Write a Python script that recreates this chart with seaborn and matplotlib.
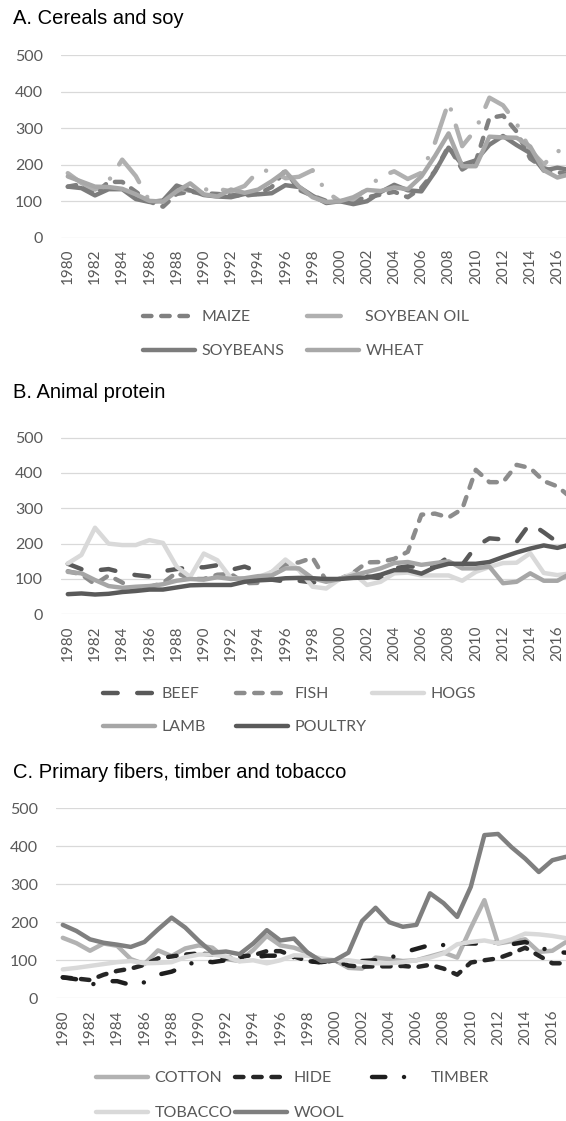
import pandas as pd
import numpy as np
import matplotlib.pyplot as plt
import seaborn as sns

# Price indices, 2000 = 100
years = list(range(1980, 2018))

# A. Cereals and soy
maize = [140, 147, 121, 153, 153, 126, 99, 85, 120, 126, 122, 120, 117, 115, 120, 139, 185, 131, 115, 101,
         100, 101, 111, 118, 126, 111, 137, 183, 251, 187, 209, 328, 335, 291, 217, 191, 179, 174]
soybean_oil = [177, 150, 132, 156, 214, 169, 101, 99, 137, 128, 132, 134, 127, 142, 182, 185, 163, 167, 185, 126,
               100, 105, 134, 168, 182, 161, 178, 261, 372, 251, 297, 384, 363, 313, 240, 201, 238, 232]
soybeans = [140, 136, 116, 133, 133, 106, 98, 102, 143, 130, 117, 113, 111, 120, 119, 122, 144, 139, 115, 95,
            100, 92, 100, 125, 145, 130, 127, 181, 247, 200, 212, 255, 279, 254, 232, 184, 192, 185]
wheat = [168, 154, 140, 139, 134, 119, 101, 99, 127, 149, 119, 113, 132, 123, 132, 155, 182, 140, 111, 98,
         100, 111, 131, 128, 138, 133, 168, 224, 286, 196, 196, 277, 275, 274, 250, 185, 165, 175]

# B. Animal protein
beef = [143, 128, 124, 128, 118, 111, 107, 122, 128, 133, 133, 139, 126, 135, 121, 98, 93, 95, 90, 96,
        100, 110, 107, 102, 130, 136, 133, 135, 163, 140, 192, 215, 212, 205, 258, 232, 204, 220]
fish = [122, 113, 85, 110, 90, 68, 77, 89, 118, 100, 100, 112, 114, 88, 89, 120, 142, 147, 160, 95,
        100, 118, 147, 148, 157, 177, 282, 285, 274, 298, 409, 374, 374, 423, 414, 377, 362, 330]
hogs = [144, 168, 245, 200, 196, 196, 210, 202, 135, 106, 172, 153, 102, 100, 105, 120, 155, 125, 78, 73,
        100, 116, 83, 92, 116, 118, 110, 110, 110, 95, 120, 134, 145, 146, 173, 117, 111, 116]
lamb = [120, 116, 97, 80, 75, 78, 80, 85, 95, 100, 98, 105, 100, 102, 108, 110, 130, 130, 102, 92,
        100, 110, 120, 130, 145, 148, 140, 145, 150, 130, 130, 135, 88, 92, 116, 95, 95, 116]
poultry = [57, 59, 56, 58, 63, 66, 70, 70, 76, 82, 83, 83, 83, 92, 96, 98, 102, 103, 102, 100,
           100, 103, 104, 112, 125, 125, 115, 133, 143, 143, 143, 148, 162, 175, 186, 195, 188, 198]

# C. Primary fibers, timber and tobacco
cotton = [159, 145, 125, 144, 138, 103, 90, 126, 111, 131, 139, 133, 103, 98, 127, 164, 139, 133, 120, 96,
          100, 80, 78, 107, 103, 98, 100, 110, 120, 107, 185, 258, 144, 150, 155, 122, 125, 148]
hide = [55, 52, 48, 62, 72, 78, 88, 105, 110, 115, 118, 115, 105, 110, 113, 124, 124, 110, 98, 94,
        100, 86, 83, 84, 84, 85, 82, 88, 78, 62, 94, 100, 105, 118, 133, 112, 92, 92]
timber = [55, 50, 35, 45, 45, 35, 42, 62, 70, 85, 100, 95, 100, 103, 108, 112, 112, 108, 98, 95,
          100, 85, 98, 100, 105, 120, 130, 140, 140, 145, 144, 144, 148, 142, 148, 135, 122, 120]
tobacco = [76, 80, 85, 90, 95, 98, 92, 93, 95, 108, 115, 115, 110, 97, 100, 92, 100, 113, 112, 105,
           100, 100, 95, 92, 92, 95, 100, 107, 118, 142, 148, 152, 145, 155, 170, 168, 164, 158]
wool = [193, 177, 155, 146, 141, 135, 148, 181, 212, 186, 151, 120, 123, 116, 144, 179, 152, 157, 120, 98,
        100, 120, 203, 238, 200, 188, 193, 276, 250, 214, 293, 429, 432, 397, 367, 332, 363, 372]

W, H = 566, 1121
sns.set_style("white")
plt.rcParams['font.family'] = ['Lato', 'DejaVu Sans']

GREY_TXT = '#595959'
DASH = (1.9, 2.2)
LONG_DASH = (3.3, 4.4)
DASH_DOT = (3.0, 4.2, 0.01, 4.4)
LONG_DASH_DOT = (7.6, 3.8, 0.01, 3.8)

# name -> (values, colour, dash)
panels = [
    dict(title='A. Cereals and soy', left=61, top=55, bottom=237.7, title_y=18,
         series={'MAIZE': (maize, '#808080', DASH),
                 'SOYBEAN OIL': (soybean_oil, '#b0b0b0', LONG_DASH_DOT),
                 'SOYBEANS': (soybeans, '#7c7c7c', ''),
                 'WHEAT': (wheat, '#a8a8a8', '')},
         keys={'MAIZE': (143, 317), 'SOYBEAN OIL': (307, 317),
               'SOYBEANS': (143, 351), 'WHEAT': (307, 351)}),
    dict(title='B. Animal protein', left=61, top=437.3, bottom=614.3, title_y=393,
         series={'BEEF': (beef, '#595959', LONG_DASH),
                 'FISH': (fish, '#8c8c8c', DASH),
                 'HOGS': (hogs, '#d9d9d9', ''),
                 'LAMB': (lamb, '#a6a6a6', ''),
                 'POULTRY': (poultry, '#5a5a5a', '')},
         keys={'BEEF': (103, 694), 'FISH': (236, 694), 'HOGS': (372, 694),
               'LAMB': (103, 727), 'POULTRY': (236, 727)}),
    dict(title='C. Primary fibers, timber and tobacco', left=56, top=807.7, bottom=998.3, title_y=772,
         series={'COTTON': (cotton, '#b2b2b2', ''),
                 'HIDE': (hide, '#262626', DASH),
                 'TIMBER': (timber, '#1e1e1e', DASH_DOT),
                 'TOBACCO': (tobacco, '#d9d9d9', ''),
                 'WOOL': (wool, '#7f7f7f', '')},
         keys={'COTTON': (96, 1078), 'HIDE': (235, 1078), 'TIMBER': (372, 1078),
               'TOBACCO': (96, 1113), 'WOOL': (235, 1113)}),
]

# shorter key lines for the dash-dot styles, so that only one period shows
short_keys = {'SOYBEAN OIL': 2.4, 'TIMBER': 2.55}
KEY_LEN = 3.25
KEY_PAD = 0.4

fig = plt.figure(figsize=(W / 100, H / 100), dpi=100)

for p in panels:
    ax = fig.add_axes([p['left'] / W, 1 - p['bottom'] / H,
                       (W - p['left']) / W, (p['bottom'] - p['top']) / H])
    names = list(p['series'])
    df = pd.concat([pd.DataFrame({'year': years, 'value': v[0], 'series': n})
                    for n, v in p['series'].items()], ignore_index=True)
    sns.lineplot(data=df, x='year', y='value', hue='series', style='series',
                 hue_order=names, style_order=names,
                 palette={n: v[1] for n, v in p['series'].items()},
                 dashes={n: v[2] for n, v in p['series'].items()},
                 linewidth=3.2, estimator=None, legend=False, ax=ax,
                 dash_capstyle='round', solid_capstyle='round', solid_joinstyle='round')

    per_year = 13.6
    ax.set_xlim(1979.5, 1979.5 + (W - p['left']) / per_year)
    ax.set_ylim(0, 501)
    ax.set_xticks(years[::2])
    ax.set_xticklabels([str(y) for y in years[::2]], rotation=90)
    ax.set_yticks(range(0, 501, 100))
    ax.tick_params(axis='x', length=0, pad=8, labelsize=11, labelcolor=GREY_TXT)
    ax.tick_params(axis='y', length=0, pad=13, labelsize=11.5, labelcolor=GREY_TXT)
    ax.set_xlabel('')
    ax.set_ylabel('')
    ax.yaxis.grid(True, color='#d9d9d9', linewidth=0.9)
    ax.xaxis.grid(False)
    ax.set_axisbelow(True)
    for s in ax.spines.values():
        s.set_visible(False)

    fig.text(13 / W, 1 - p['title_y'] / H, p['title'], fontsize=14.5, color='black',
             family=['Liberation Sans', 'DejaVu Sans'], ha='left', va='center')

    for line, name in zip(ax.lines, names):
        x, y = p['keys'][name]
        hl = short_keys.get(name, KEY_LEN)
        fig.legend(handles=[line], labels=[name], loc='center left',
                   bbox_to_anchor=(x / W, 1 - y / H), frameon=False,
                   borderpad=0, borderaxespad=0, handlelength=hl,
                   handletextpad=KEY_PAD + (KEY_LEN - hl), fontsize=11.5,
                   labelcolor=GREY_TXT)

fig.savefig('out.png', dpi=100)
